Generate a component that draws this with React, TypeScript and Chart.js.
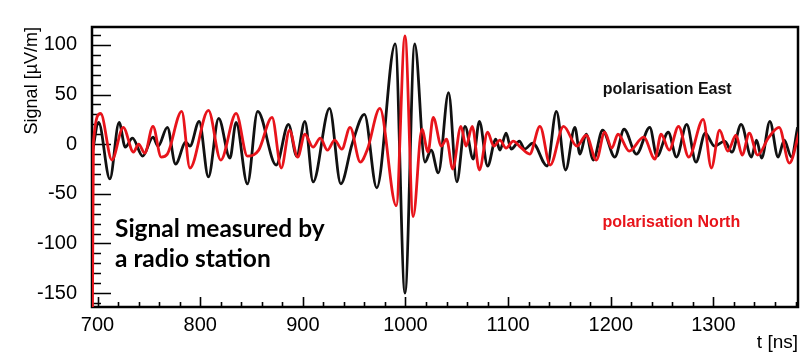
import React, { useEffect, useRef } from 'react';
import { Chart, registerables } from 'chart.js';

Chart.register(...registerables);

// Axis ranges and ticks
const X_MIN = 694.6;
const X_MAX = 1382.4;
const Y_MIN = -164;
const Y_MAX = 118;
const X_TICKS = [700, 800, 900, 1000, 1100, 1200, 1300];
const Y_TICKS = [-150, -100, -50, 0, 50, 100];
const X_MINOR_STEP = 20;
const Y_MINOR_STEP = 10;

// polarisation East (black)
const EAST_T = [695, 701, 712, 721, 727, 734, 744, 754, 759, 768, 776, 786, 790, 799, 808, 818, 829, 835, 846, 856, 874, 886, 894, 902, 910, 926, 937, 948, 960, 972, 990, 999.5, 1009, 1019, 1025, 1032, 1042, 1050, 1058, 1066, 1072, 1080, 1088, 1092, 1098, 1103, 1111, 1116, 1124, 1138, 1147, 1156, 1165, 1170, 1176, 1183, 1192, 1204, 1213, 1225, 1238, 1245, 1256, 1264, 1274, 1283, 1292, 1301, 1311, 1318, 1327, 1337, 1342, 1347, 1355, 1363, 1369, 1376, 1382];
const EAST_V = [-8, 22, -35, 22, -3, 6, -12, 7, -2, 17, -20, 2, -2, 23, -33, 26, -14, 22, -40, 33, -21, 20, -12, 23, -38, 36, -40, 0, 30, -44, 101, -150, 101, -18, -6, -29, 52, -38, 18, -15, 23, -22, 5, -6, 11, -5, 3, -5, 1, -22, 33, -26, 17, -10, 10, -16, 14, -13, 15, -10, 17, -12, 12, -13, 20, -18, 11, -2, 3, -8, 20, -13, 4, -14, 23, -13, 4, -13, 17];

// polarisation North (red)
const NORTH_T = [695, 696, 703, 714, 725, 735, 740, 746, 754, 762, 768, 782, 790, 808, 820, 835, 846, 857, 870, 879, 887, 895, 902, 910, 917, 924, 931, 938, 946, 956, 963, 975, 991, 999.5, 1007.5, 1016, 1022, 1027, 1035, 1040, 1046, 1054, 1059, 1065, 1072, 1080, 1086, 1092, 1098, 1105, 1112, 1121, 1131, 1141, 1154, 1167, 1176, 1186, 1194, 1201, 1207, 1218, 1232, 1243, 1249, 1257, 1266, 1276, 1290, 1298, 1306, 1314, 1322, 1328, 1335, 1343, 1354, 1364, 1374, 1384];
const NORTH_V = [-175, 2, 31, -16, 17, -8, 0, -9, 18, -13, -10, 33, -24, 34, -16, 31, -12, -6, 27, -24, 14, -13, 10, -3, 6, -6, 4, -5, 17, -18, -5, 36, -62, 109, -73, 15, -8, 27, -2, 5, -25, 18, -2, 18, -26, 12, -2, 4, -4, 3, -3, -10, 18, -21, 18, -2, 9, -16, 12, -4, 10, -7, 7, -15, 10, -6, 18, -13, 25, -24, 14, -7, 9, -11, 11, -11, 7, 17, -19, 14];

const EAST_COLOR = '#111111';
const NORTH_COLOR = '#e8141b';
const LABEL_EAST = 'polarisation East';
const LABEL_NORTH = 'polarisation North';
const NOTE_LINES = ['Signal measured by', 'a radio station'];
const Y_TITLE = 'Signal [\u00b5V/m]';
const X_TITLE = 't [ns]';

const AXIS_FONT = "'Liberation Sans', Arial, Helvetica, sans-serif";

const toPoints = (ts: number[], vs: number[]) => ts.map((t, i) => ({ x: t, y: vs[i] }));

const rootFramePlugin = {
  id: 'rootFrame',
  beforeDatasetsDraw(chart: any) {
    const { ctx, chartArea: a } = chart;
    const xs = chart.scales.x;
    const ys = chart.scales.y;
    ctx.save();
    ctx.strokeStyle = '#000';
    // ticks on left axis (inward)
    ctx.lineWidth = 1.6;
    ctx.beginPath();
    const yStart = Math.ceil(Y_MIN / Y_MINOR_STEP) * Y_MINOR_STEP;
    for (let v = yStart; v <= Y_MAX; v += Y_MINOR_STEP) {
      const py = Math.round(ys.getPixelForValue(v)) + 0.5;
      const len = v % 50 === 0 ? 19 : 9;
      ctx.moveTo(a.left, py);
      ctx.lineTo(a.left + len, py);
    }
    // ticks on bottom axis (inward)
    const xStart = Math.ceil(X_MIN / X_MINOR_STEP) * X_MINOR_STEP;
    for (let v = xStart; v <= X_MAX; v += X_MINOR_STEP) {
      const px = Math.round(xs.getPixelForValue(v)) + 0.5;
      const len = v % 100 === 0 ? 10 : 5;
      ctx.moveTo(px, a.bottom);
      ctx.lineTo(px, a.bottom - len);
    }
    ctx.stroke();
    // frame
    ctx.lineWidth = 2.5;
    ctx.strokeRect(a.left, a.top, a.right - a.left, a.bottom - a.top);
    ctx.restore();
  },
  afterDraw(chart: any) {
    const { ctx } = chart;
    const xs = chart.scales.x;
    const ys = chart.scales.y;
    ctx.save();
    ctx.textBaseline = 'alphabetic';
    ctx.font = `bold 16px ${AXIS_FONT}`;
    ctx.textAlign = 'center';
    ctx.fillStyle = '#111';
    ctx.fillText(LABEL_EAST, xs.getPixelForValue(1255), ys.getPixelForValue(50.2));
    ctx.fillStyle = NORTH_COLOR;
    ctx.fillText(LABEL_NORTH, xs.getPixelForValue(1259), ys.getPixelForValue(-83.8));
    ctx.textAlign = 'left';
    ctx.fillStyle = '#000';
    ctx.font = "bold 24.5px Lato, 'Open Sans', sans-serif";
    ctx.fillText(NOTE_LINES[0], xs.getPixelForValue(717), ys.getPixelForValue(-94));
    ctx.fillText(NOTE_LINES[1], xs.getPixelForValue(717), ys.getPixelForValue(-124));
    ctx.restore();
  },
};

export default function App() {
  const ref = useRef<HTMLCanvasElement>(null);
  useEffect(() => {
    document.body.style.margin = '0';
    const canvas = ref.current;
    if (!canvas) return;
    const chart = new Chart(canvas, {
      type: 'line',
      data: {
        datasets: [
          {
            label: LABEL_NORTH,
            data: toPoints(NORTH_T, NORTH_V),
            borderColor: NORTH_COLOR,
            borderWidth: 2.8,
            pointRadius: 0,
            fill: false,
            cubicInterpolationMode: 'monotone',
          },
          {
            label: LABEL_EAST,
            data: toPoints(EAST_T, EAST_V),
            borderColor: EAST_COLOR,
            borderWidth: 2.8,
            pointRadius: 0,
            fill: false,
            cubicInterpolationMode: 'monotone',
          },
        ],
      },
      options: {
        animation: false,
        responsive: false,
        maintainAspectRatio: false,
        layout: { padding: { top: 10, right: 4, left: 0, bottom: 0 } },
        plugins: { legend: { display: false }, tooltip: { enabled: false } },
        scales: {
          x: {
            type: 'linear',
            min: X_MIN,
            max: X_MAX,
            afterBuildTicks: (s: any) => {
              s.ticks = X_TICKS.map((v) => ({ value: v }));
            },
            afterFit: (s: any) => {
              s.height = 50;
            },
            grid: { display: false, drawTicks: false },
            border: { display: false },
            ticks: {
              padding: 6,
              color: '#000',
              autoSkip: false,
              maxRotation: 0,
              font: { family: AXIS_FONT, size: 20 },
              callback: (v: any) => String(v),
            },
            title: {
              display: true,
              text: X_TITLE,
              align: 'end',
              color: '#000',
              font: { family: AXIS_FONT, size: 19 },
              padding: { top: 0, bottom: 3 },
            },
          },
          y: {
            type: 'linear',
            min: Y_MIN,
            max: Y_MAX,
            afterBuildTicks: (s: any) => {
              s.ticks = Y_TICKS.map((v) => ({ value: v }));
            },
            afterFit: (s: any) => {
              s.width = 92;
            },
            grid: { display: false, drawTicks: false },
            border: { display: false },
            ticks: {
              padding: 15,
              color: '#000',
              autoSkip: false,
              font: { family: AXIS_FONT, size: 20 },
              callback: (v: any) => String(v),
            },
            title: {
              display: true,
              text: Y_TITLE,
              align: 'end',
              color: '#000',
              font: { family: AXIS_FONT, size: 18 },
              padding: { top: 21, bottom: 0 },
            },
          },
        },
      } as any,
      plugins: [rootFramePlugin],
    });
    return () => chart.destroy();
  }, []);
  return (
    <div style={{ width: 802, height: 357 }}>
      <canvas ref={ref} width={802} height={357} style={{ display: 'block' }} />
    </div>
  );
}
